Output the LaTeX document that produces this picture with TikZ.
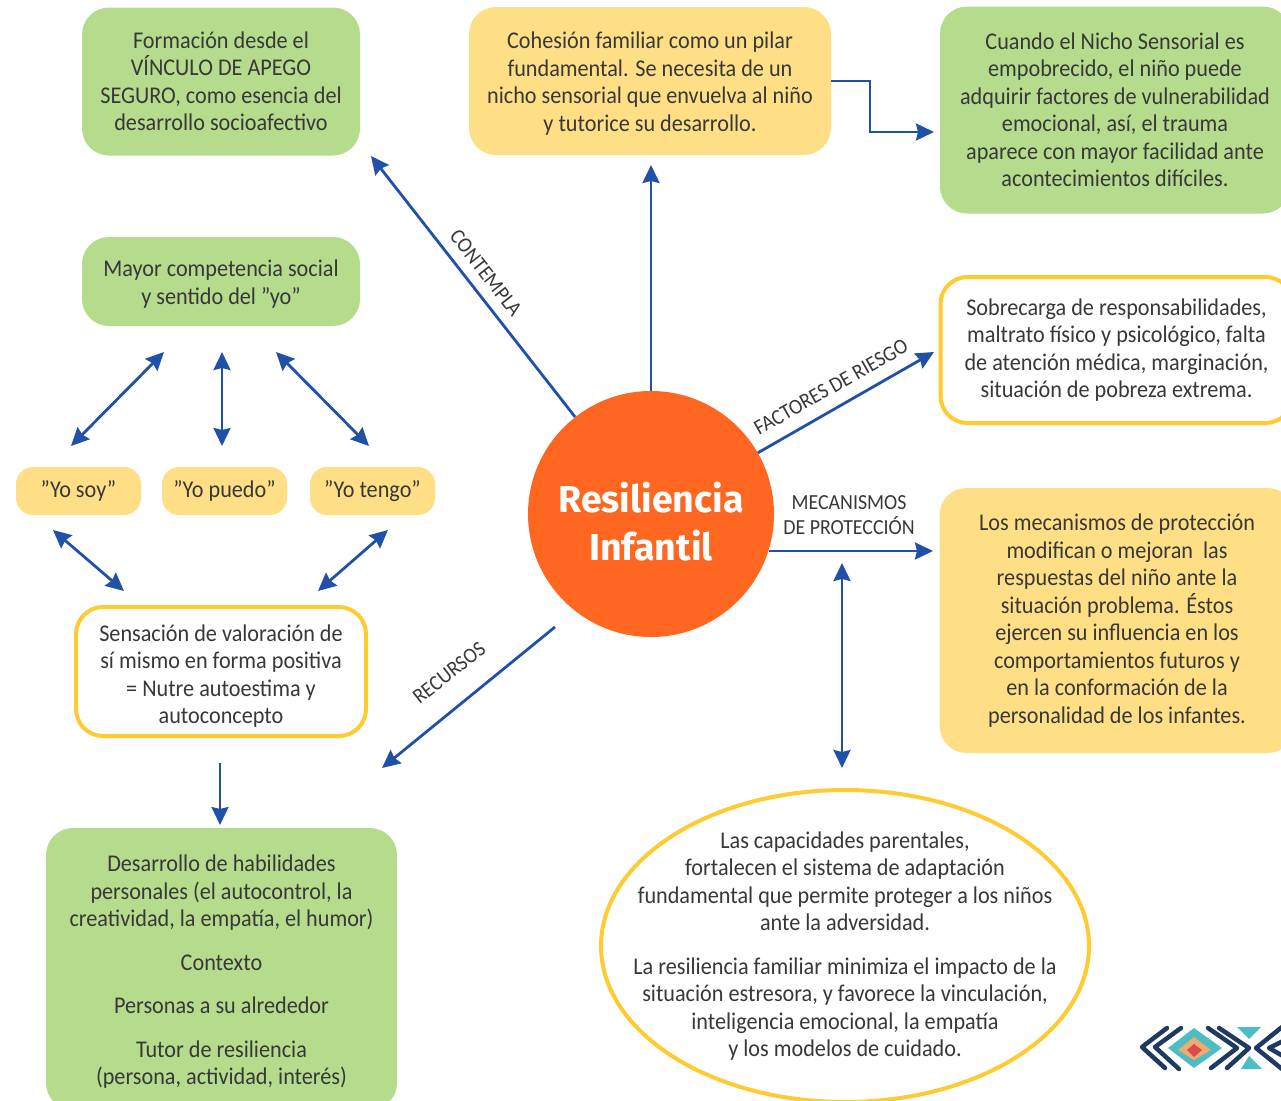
\documentclass[tikz,border=0pt]{standalone}
\usepackage{fontspec}
\setmainfont{Carlito}[FakeStretch=0.925]
\newfontfamily\boldface{Fira Sans}
\usetikzlibrary{arrows.meta,shapes.geometric,calc}
\definecolor{boxgreen}{HTML}{B5DC8D}
\definecolor{boxyellow}{HTML}{FFDF85}
\definecolor{ringyellow}{HTML}{FFCB30}
\definecolor{hub}{HTML}{FF661F}
\definecolor{arrowblue}{HTML}{2050A8}
\definecolor{ink}{HTML}{383838}
\definecolor{navy}{HTML}{1F3A5F}
\definecolor{teal}{HTML}{4DBDC4}
\definecolor{sand}{HTML}{EFAA72}
\definecolor{rust}{HTML}{D84C4F}
\tikzset{
  every node/.style={text=ink,font=\fontsize{24}{27.5}\selectfont,align=center,inner sep=0pt},
  box/.style={rectangle,rounded corners=27pt,minimum width=#1},
  greenbox/.style={box=#1,fill=boxgreen},
  yellowbox/.style={box=#1,fill=boxyellow},
  ringbox/.style={box=#1,draw=ringyellow,fill=white,line width=4pt},
  yobox/.style={rectangle,rounded corners=17pt,fill=boxyellow,minimum width=125pt,minimum height=48pt},
  link/.style={draw=arrowblue,line width=2.8pt,-{Stealth[length=18pt,width=17pt,inset=2pt]}},
  dlink/.style={draw=arrowblue,line width=2.8pt,{Stealth[length=18pt,width=17pt,inset=2pt]}-{Stealth[length=18pt,width=17pt,inset=2pt]}},
  tag/.style={font=\fontsize{21.5}{25}\selectfont},
  chev/.style={draw=navy,line width=4.5pt,line cap=round,line join=round}
}
\begin{document}
\begin{tikzpicture}[x=1pt,y=-1pt]
\useasboundingbox (0,0) rectangle (1281,1100);
\clip (0,0) rectangle (1281,1100);
\node[greenbox=278pt,minimum height=148pt] (vinculo) at (221,81.5) {Formación desde el\\VÍNCULO DE APEGO\\SEGURO, como esencia del\\desarrollo socioafectivo};
\node[yellowbox=362pt,minimum height=148pt] (cohesion) at (650,81) {\mbox{}\\[-5.5pt]Cohesión familiar como un pilar\\fundamental. Se necesita de un\\nicho sensorial que envuelva al niño\\y tutorice su desarrollo.};
\node[greenbox=350pt,minimum height=207pt] (nicho) at (1115,110) {Cuando el Nicho Sensorial es\\empobrecido, el niño puede\\adquirir factores de vulnerabilidad\\emocional, así, el trauma\\aparece con mayor facilidad ante\\acontecimientos difíciles.};
\node[greenbox=278pt,minimum height=89pt] (social) at (221,281.5) {\mbox{}\\[-5.5pt]Mayor competencia social\\y sentido del "yo"};
\node[ringbox=352pt,minimum height=146pt] (riesgo) at (1116.5,350) {Sobrecarga de responsabilidades,\\maltrato físico y psicológico, falta\\de atención médica, marginación,\\situación de pobreza extrema.};
\node[yobox] (soy) at (78.5,491) {"Yo soy"};
\node[yobox] (puedo) at (224.5,491) {"Yo puedo"};
\node[yobox] (tengo) at (372.5,491) {"Yo tengo"};
\node[ringbox=290pt,minimum height=129pt] (valor) at (221,671.5) {\mbox{}\\[-1.5pt]Sensación de valoración de\\sí mismo en forma positiva\\= Nutre autoestima y\\autoconcepto};
\node[greenbox=351pt,minimum height=282pt] (habil) at (221.5,969) {\mbox{}\\[-5.5pt]Desarrollo de habilidades\\personales (el autocontrol, la\\creatividad, la empatía, el humor)\\[16pt]Contexto\\[16pt]Personas a su alrededor\\[16pt]Tutor de resiliencia\\(persona, actividad, interés)};
\node[yellowbox=355pt,minimum height=265pt] (proteccion) at (1117,620.5) {Los mecanismos de protección\\modifican o mejoran\ \ las\\respuestas del niño ante la\\situación problema. Éstos\\ejercen su influencia en los\\comportamientos futuros y\\en la conformación de la\\personalidad de los infantes.};
\node[ellipse,draw=ringyellow,fill=white,line width=4pt,minimum width=488pt,minimum height=312pt] (parental) at (845,946) {};
\node (parentalText) at (845,946) {Las capacidades parentales,\\fortalecen el sistema de adaptación\\fundamental que permite proteger a los niños\\ante la adversidad.\\[16pt]La resiliencia familiar minimiza el impacto de la\\situación estresora, y favorece la vinculación,\\inteligencia emocional, la empatía\\y los modelos de cuidado.};
\node[circle,fill=hub,minimum size=246pt] (hubnode) at (651,514) {};
\node[text=white,font={\boldface\bfseries\fontsize{37.5}{48}\selectfont}] (hubtext) at (651,522) {Resiliencia\\Infantil};
% free ends
\coordinate (toVinculo) at (371,156);
\coordinate (toCohesion) at (651,165);
\coordinate (toNicho) at (934,132);
\coordinate (toRiesgo) at (934,352);
\coordinate (toProt) at (933,551);
\coordinate (fromRec) at (555,627);
\coordinate (toRec) at (382,768);
\coordinate (a1) at (164,352);\coordinate (a2) at (71,446);
\coordinate (b1) at (222,352);\coordinate (b2) at (222,446);
\coordinate (c1) at (276,352);\coordinate (c2) at (369,446);
\coordinate (d1) at (53,530);\coordinate (d2) at (124,591);
\coordinate (e1) at (388,530);\coordinate (e2) at (318,591);
\coordinate (f1) at (220,763);\coordinate (f2) at (220,825);
\coordinate (g1) at (842,563);\coordinate (g2) at (842,768);
% connectors
\draw[link] (hubnode) -- (toVinculo);
\draw[link] (hubnode) -- (toCohesion);
\draw[link] (cohesion.east) -| (870,132) -- (toNicho);
\draw[link] (hubnode) -- (toRiesgo);
\draw[link] (hubnode.-17.5 |- toProt) -- (toProt);
\draw[link] (fromRec) -- (toRec);
\draw[dlink] (a1) -- (a2);
\draw[dlink] (b1) -- (b2);
\draw[dlink] (c1) -- (c2);
\draw[dlink] (d1) -- (d2);
\draw[dlink] (e1) -- (e2);
\draw[link] (f1) -- (f2);
\draw[dlink] (g1) -- (g2);
% labels
\node[tag,rotate=-52] (lContempla) at (486,273) {CONTEMPLA};
\node[tag,rotate=29.5] (lFactores) at (831,387) {FACTORES DE RIESGO};
\node[tag] (lMec) at (849,515.5) {MECANISMOS\\DE PROTECCIÓN};
\node[tag,rotate=38] (lRec) at (449,673) {RECURSOS};
% logo
\draw[chev] (1167,1028) -- (1142,1047) -- (1165,1068);
\draw[chev] (1181,1028) -- (1155,1047) -- (1179,1069);
\fill[teal] (1194,1028) -- (1222,1048) -- (1194,1068) -- (1168,1048) -- cycle;
\fill[sand] (1194,1037) -- (1211,1050) -- (1194,1060) -- (1178,1050) -- cycle;
\fill[rust] (1194,1044) -- (1202,1050) -- (1194,1057) -- (1187,1050) -- cycle;
\draw[chev] (1208,1028) -- (1237,1048) -- (1211,1068);
\draw[chev] (1219,1028) -- (1249,1048) -- (1227,1068);
\fill[teal] (1237,1027) -- (1261,1027) -- (1249,1039) -- cycle;
\fill[teal] (1249,1056) -- (1241,1069) -- (1262,1069) -- cycle;
\draw[chev] (1282,1027) -- (1256,1048) -- (1282,1069);
\draw[chev] (1283,1041) -- (1269,1048) -- (1283,1056);
\end{tikzpicture}
\end{document}
